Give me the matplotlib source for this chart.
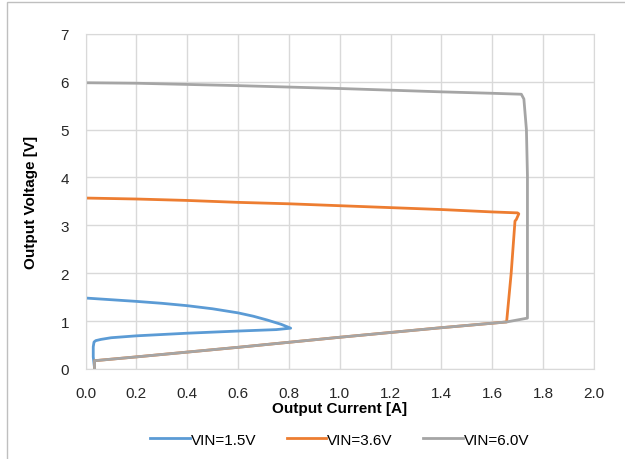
import matplotlib.pyplot as plt
from matplotlib.patches import Rectangle

plt.rcParams['font.family'] = ['Liberation Sans', 'DejaVu Sans']

# VIN=1.5V curve (output current A, output voltage V)
i_15 = [0.0, 0.1, 0.2, 0.3, 0.4, 0.5, 0.6, 0.66, 0.715, 0.77, 0.807,
        0.75, 0.6, 0.4, 0.2, 0.1, 0.06, 0.04, 0.033, 0.03, 0.03, 0.035]
v_15 = [1.48, 1.445, 1.41, 1.37, 1.32, 1.255, 1.17, 1.10, 1.02, 0.93, 0.85,
        0.82, 0.79, 0.745, 0.69, 0.65, 0.615, 0.59, 0.56, 0.46, 0.25, 0.02]

# VIN=3.6V curve
i_36 = [0.0, 0.2, 0.4, 0.6, 0.8, 1.0, 1.2, 1.4, 1.6, 1.70, 1.705, 1.695,
        1.69, 1.675, 1.657, 1.4, 1.2, 1.0, 0.8, 0.6, 0.4, 0.2, 0.035, 0.035]
v_36 = [3.57, 3.55, 3.52, 3.48, 3.45, 3.41, 3.37, 3.33, 3.28, 3.26, 3.24, 3.12,
        3.09, 2.0, 0.98, 0.86, 0.76, 0.66, 0.555, 0.45, 0.35, 0.25, 0.17, 0.0]

# VIN=6.0V curve
i_60 = [0.0, 0.2, 0.6, 1.0, 1.4, 1.6, 1.715, 1.725, 1.735, 1.739, 1.739,
        1.657, 1.4, 1.2, 1.0, 0.8, 0.6, 0.4, 0.2, 0.035, 0.035]
v_60 = [5.98, 5.97, 5.92, 5.86, 5.79, 5.76, 5.74, 5.64, 5.0, 4.04, 1.06,
        0.98, 0.86, 0.76, 0.66, 0.555, 0.45, 0.35, 0.25, 0.17, 0.0]

fig = plt.figure(figsize=(6.25, 4.6), dpi=100)
ax = fig.add_axes([0.137, 0.196, 0.813, 0.728])

ax.plot(i_15, v_15, color='#5B9BD5', linewidth=2, label='VIN=1.5V')
ax.plot(i_36, v_36, color='#ED7D31', linewidth=2, label='VIN=3.6V')
ax.plot(i_60, v_60, color='#A5A5A5', linewidth=2, label='VIN=6.0V')

ax.set_xlim(0, 2.0)
ax.set_ylim(0, 7)
ax.set_xticks([x / 10 for x in range(0, 21, 2)])
ax.set_xticklabels(['%.1f' % (x / 10) for x in range(0, 21, 2)])
ax.set_yticks(range(0, 8))

ax.grid(True, color='#D9D9D9', linewidth=1)
ax.set_axisbelow(True)
for s in ax.spines.values():
    s.set_color('#D9D9D9')
ax.tick_params(length=0, labelsize=11, labelcolor='#262626')
ax.tick_params(axis='x', pad=12)
ax.tick_params(axis='y', pad=12)

ax.set_xlabel('Output Current [A]', fontsize=11, fontweight='bold', labelpad=1)
ax.set_ylabel('Output Voltage [V]', fontsize=11, fontweight='bold', labelpad=16)

ax.legend(loc='upper center', bbox_to_anchor=(0.5, -0.15), ncol=3,
          frameon=False, fontsize=11, handlelength=2.6, handletextpad=0.05,
          columnspacing=2.0)

# outer chart border (only top and left visible in the crop)
fig.patches.append(Rectangle((7 / 625, -0.1), 1.2, 1 - 3 / 460 + 0.1,
                             transform=fig.transFigure, fill=False,
                             edgecolor='#BFBFBF', linewidth=1))

plt.savefig('out.png', dpi=100)
